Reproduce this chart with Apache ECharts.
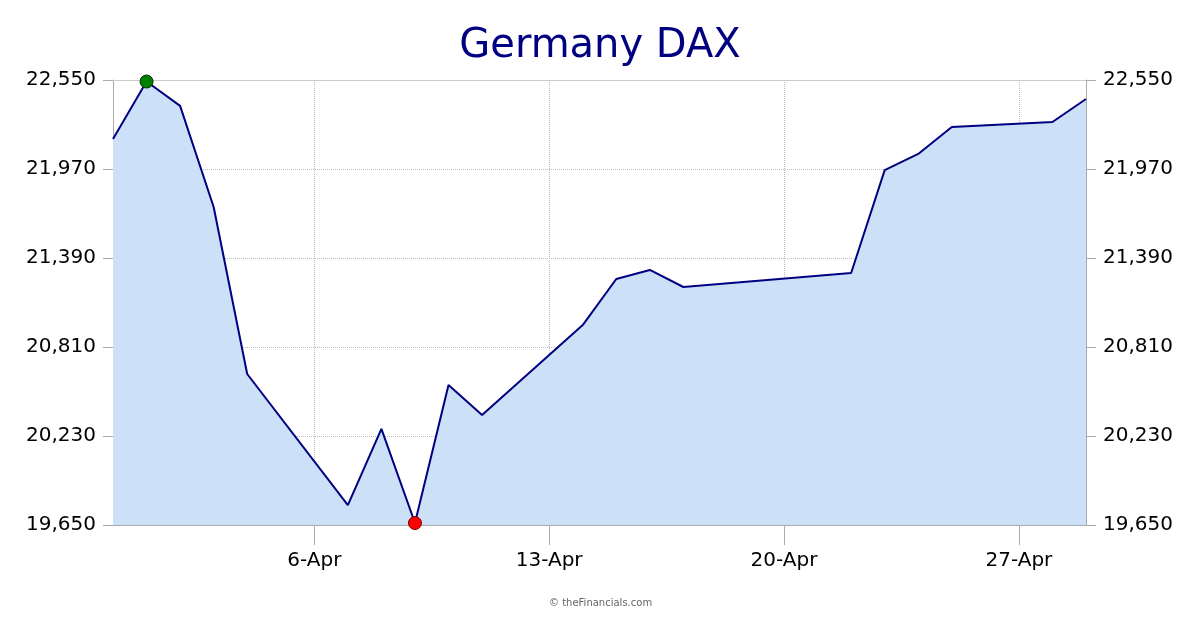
<!DOCTYPE html>
<html>
<head>
<meta charset="utf-8">
<script src="https://cdn.jsdelivr.net/npm/echarts@6/dist/echarts.min.js"></script>
<style>html,body{margin:0;padding:0;background:#fff}#c{width:1200px;height:630px}</style>
</head>
<body>
<div id="c"></div>
<script>
const categories = ['31-Mar','1-Apr','2-Apr','3-Apr','4-Apr','5-Apr','6-Apr','7-Apr','8-Apr','9-Apr','10-Apr','11-Apr','12-Apr','13-Apr','14-Apr','15-Apr','16-Apr','17-Apr','18-Apr','19-Apr','20-Apr','21-Apr','22-Apr','23-Apr','24-Apr','25-Apr','26-Apr','27-Apr','28-Apr','29-Apr'];
const values = [22165,22540,22381,21722,20634,null,null,19780,20276,19663,20562,20367,null,null,20953,21253,21312,21201,null,null,null,null,21292,21963,22068,22244,null,null,22276,22426];
const tickLabels = ['6-Apr','13-Apr','20-Apr','27-Apr'];
const yTicks = [19650,20230,20810,21390,21970,22550];

const yMin = yTicks[0], yMax = yTicks[yTicks.length-1], yStep = yTicks[1]-yTicks[0];
let maxIdx = 0, minIdx = 0;
values.forEach((v,i)=>{ if(v==null) return; if(v>values[maxIdx]) maxIdx=i; if(v<values[minIdx]) minIdx=i; });
const showTick = (i)=> tickLabels.indexOf(categories[i]) >= 0;
const font = 'DejaVu Sans, Verdana, sans-serif';
const yAxisBase = {
  type:'value', min:yMin, max:yMax, interval:yStep,
  axisLine:{show:true, lineStyle:{color:'#aaaaaa'}},
  axisTick:{show:true, length:10, lineStyle:{color:'#aaaaaa'}},
  axisLabel:{color:'#000', fontSize:20, fontFamily:font, margin:17, padding:[6,0,0,0], formatter:v=>v.toLocaleString('en-US')},
};
const chart = echarts.init(document.getElementById('c'));
chart.setOption({
  animation:false,
  backgroundColor:'#fff',
  title:{text:'Germany DAX', left:'center', top:22, textStyle:{color:'#000080', fontSize:40, fontWeight:'normal', fontFamily:font}},
  graphic:[{type:'text', left:549, top:598, style:{text:'© theFinancials.com', fill:'#666', font:'10px '+font}}],
  grid:{left:113, right:114, top:80, bottom:105},
  xAxis:{
    type:'category', data:categories, boundaryGap:false,
    axisLine:{lineStyle:{color:'#aaaaaa'}},
    axisTick:{show:true, length:20, interval:(i)=>showTick(i), lineStyle:{color:'#aaaaaa'}},
    axisLabel:{interval:(i)=>showTick(i), color:'#000', fontSize:20, fontFamily:font, margin:26},
    splitLine:{show:true, interval:(i)=>showTick(i), lineStyle:{color:'#bbbbbb', type:'dotted'}}
  },
  yAxis:[
    Object.assign({}, yAxisBase, {position:'left', splitLine:{show:true, lineStyle:{color:'#bbbbbb', type:'dotted'}}}),
    Object.assign({}, yAxisBase, {position:'right', splitLine:{show:false}})
  ],
  series:[{
    type:'line', data:values, connectNulls:true, symbol:'none',
    lineStyle:{color:'#000080', width:2},
    areaStyle:{color:'#cce0f7', opacity:1},
    markLine:{
      silent:true, symbol:'none', label:{show:false},
      lineStyle:{color:'#cccccc', type:'solid', width:1},
      data:[{yAxis:yMax}]
    },
    markPoint:{
      symbol:'circle', symbolSize:13, label:{show:false},
      data:[
        {coord:[maxIdx, values[maxIdx]], itemStyle:{color:'#008000', borderColor:'#003000', borderWidth:1}},
        {coord:[minIdx, values[minIdx]], itemStyle:{color:'#ff0000', borderColor:'#800000', borderWidth:1}}
      ]
    }
  },{
    type:'line', yAxisIndex:1, data:[], symbol:'none'
  }]
});
</script>
</body>
</html>
